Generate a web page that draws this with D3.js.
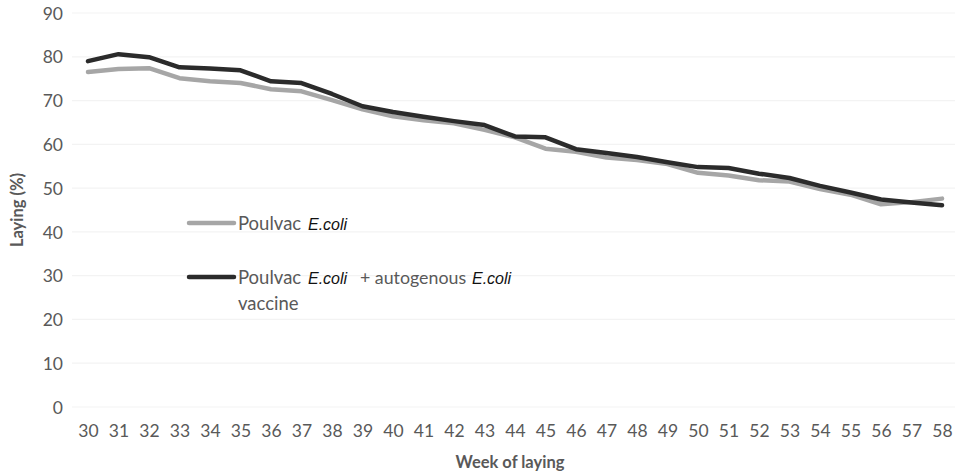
<!DOCTYPE html>
<html><head><meta charset="utf-8">
<script src="https://cdn.jsdelivr.net/npm/d3@7"></script>
<style>body{margin:0;background:#fff}svg{display:block}</style>
</head><body><svg id="c" width="956" height="475"></svg>
<script>
const weeks = [30,31,32,33,34,35,36,37,38,39,40,41,42,43,44,45,46,47,48,49,50,51,52,53,54,55,56,57,58];
const poulvac = [76.5,77.2,77.4,75.1,74.4,74.0,72.6,72.1,70.1,68.0,66.4,65.5,64.8,63.3,61.6,59.0,58.3,57.0,56.4,55.5,53.5,52.9,51.8,51.5,49.8,48.5,46.3,46.8,47.6];
const combined = [79.0,80.6,79.9,77.6,77.3,76.9,74.4,74.0,71.5,68.7,67.4,66.3,65.3,64.4,61.8,61.6,58.9,58.0,57.1,55.9,54.8,54.6,53.3,52.3,50.5,49.0,47.4,46.7,46.1];
const yTicks = [0,10,20,30,40,50,60,70,80,90];
const seriesNames = ["Poulvac", "Poulvac"];

const svg = d3.select("#c");
const x = d3.scaleLinear().domain([30,58]).range([88,942]);
const y = d3.scaleLinear().domain([0,90]).range([407,13]);
const font = "Lato, 'Open Sans', sans-serif";
const ital = "'Liberation Sans', Arial, sans-serif";

// gridlines
svg.append("g").selectAll("line").data(yTicks).join("line")
  .attr("x1",72).attr("x2",955).attr("y1",d=>y(d)).attr("y2",d=>y(d))
  .attr("stroke","#f3f3f3").attr("stroke-width",1.2);

// y axis
const ya = svg.append("g").attr("transform","translate(63,0)")
  .call(d3.axisLeft(y).tickValues(yTicks).tickSize(0).tickPadding(0));
ya.select(".domain").remove();
ya.selectAll("text").attr("font-family",font).attr("font-size",17.5).attr("fill","#595959").attr("dy","0.35em");

// x axis
const xa = svg.append("g").attr("transform","translate(0,431)")
  .call(d3.axisBottom(x).tickValues(weeks).tickSize(0).tickPadding(0));
xa.select(".domain").remove();
xa.selectAll("text").attr("font-family",font).attr("font-size",17.5).attr("fill","#595959").attr("dy","0.35em");

// titles
svg.append("text").attr("x",510).attr("y",468).attr("text-anchor","middle")
  .attr("font-family",font).attr("font-size",16.5).attr("font-weight","bold").attr("fill","#595959").text("Week of laying");
svg.append("text").attr("transform","translate(23,210) rotate(-90)").attr("text-anchor","middle")
  .attr("font-family",font).attr("font-size",16.5).attr("font-weight","bold").attr("fill","#595959").text("Laying (%)");

// lines
const line = d3.line().x((d,i)=>x(weeks[i])).y(d=>y(d)).curve(d3.curveLinear);
svg.append("path").datum(poulvac).attr("d",line).attr("fill","none")
  .attr("stroke","#a6a6a6").attr("stroke-width",4.5).attr("stroke-linejoin","round").attr("stroke-linecap","round");
svg.append("path").datum(combined).attr("d",line).attr("fill","none")
  .attr("stroke","#2b2b2b").attr("stroke-width",4.5).attr("stroke-linejoin","round").attr("stroke-linecap","round");

// legend
const lg = svg.append("g");
lg.append("line").attr("x1",189).attr("x2",234).attr("y1",223).attr("y2",223)
  .attr("stroke","#a6a6a6").attr("stroke-width",4.5).attr("stroke-linecap","round");
lg.append("line").attr("x1",189).attr("x2",234).attr("y1",277).attr("y2",277)
  .attr("stroke","#2b2b2b").attr("stroke-width",4.5).attr("stroke-linecap","round");
function txt(xp, yp, s, it, fs){
  const t = lg.append("text").attr("x",xp).attr("y",yp).text(s);
  if(it) t.attr("font-family",ital).attr("font-style","italic").attr("font-size",16).attr("fill","#111");
  else t.attr("font-family",font).attr("font-size",fs||18.5).attr("fill","#595959");
}
txt(238,230,seriesNames[0],false);
txt(308,230,"E.coli",true);
txt(238,284,seriesNames[1],false);
txt(308,284,"E.coli",true);
txt(360,284,"+ autogenous",false,17.8);
txt(472,284,"E.coli",true);
txt(238,310,"vaccine",false);
</script></body></html>
